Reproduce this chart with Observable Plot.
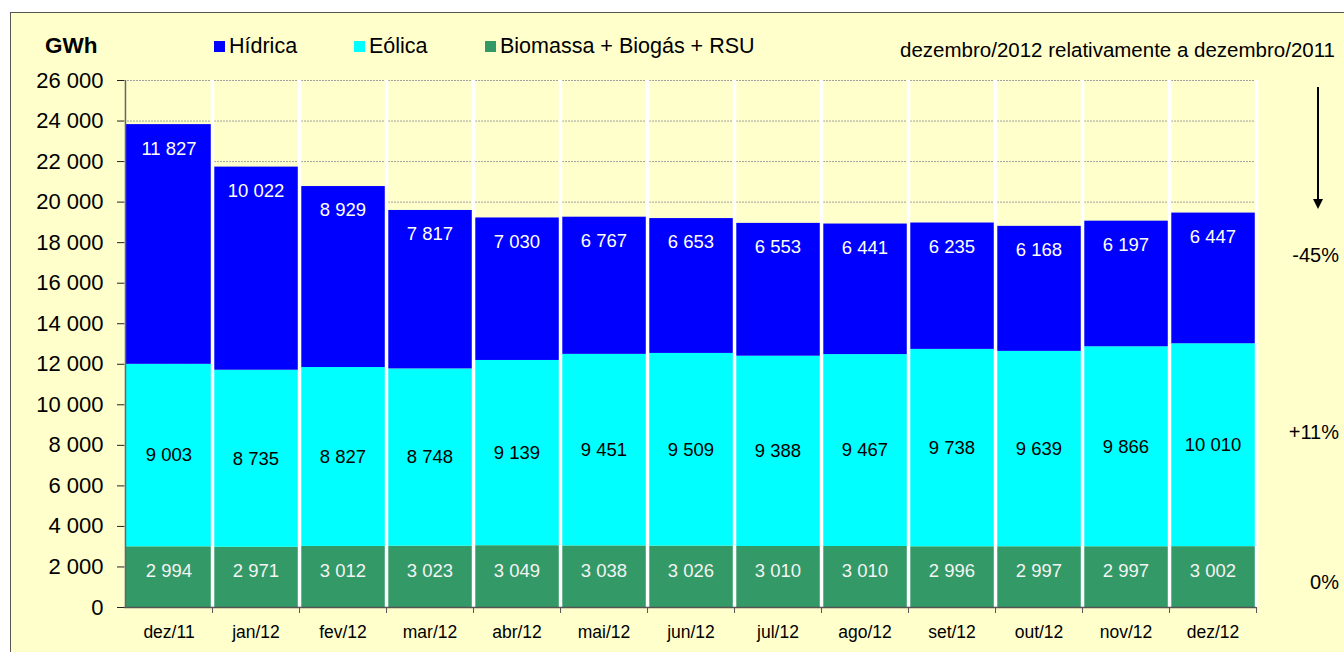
<!DOCTYPE html>
<html>
<head>
<meta charset="utf-8">
<script src="https://cdn.jsdelivr.net/npm/d3@7"></script>
<script src="https://cdn.jsdelivr.net/npm/@observablehq/plot@0.6"></script>
<style>
  html, body { margin: 0; padding: 0; background: #fff; }
  body { width: 1344px; height: 652px; overflow: hidden; position: relative; font-family: "Liberation Sans", Arial, sans-serif; }
  #frame { position: absolute; left: 10px; top: 12px; width: 1340px; height: 650px; background: #FFFFCC; border: 1px solid #555; box-sizing: border-box; }
  #chart { position: absolute; left: 0; top: 0; }
  .ann { position: absolute; white-space: nowrap; line-height: 1; color: #000; }
  .sw { position: absolute; width: 11px; height: 11px; }
</style>
</head>
<body>
<div id="frame"></div>
<div id="chart"></div>
<script>
const months = ["dez/11","jan/12","fev/12","mar/12","abr/12","mai/12","jun/12","jul/12","ago/12","set/12","out/12","nov/12","dez/12"];
const seriesNames = ["Biomassa + Biogás + RSU", "Eólica", "Hídrica"];
const seriesColors = ["#339966", "#00FFFF", "#0000FF"];
const biomassa = [2994, 2971, 3012, 3023, 3049, 3038, 3026, 3010, 3010, 2996, 2997, 2997, 3002];
const eolica = [9003, 8735, 8827, 8748, 9139, 9451, 9509, 9388, 9467, 9738, 9639, 9866, 10010];
const hidrica = [11827, 10022, 8929, 7817, 7030, 6767, 6653, 6553, 6441, 6235, 6168, 6197, 6447];
const yTicks = [0, 2000, 4000, 6000, 8000, 10000, 12000, 14000, 16000, 18000, 20000, 22000, 24000, 26000];
const changeLabels = ["-45%", "+11%", "0%"];
const compareTitle = "dezembro/2012 relativamente a dezembro/2011";
const unitLabel = "GWh";

const fmt = d3.formatLocale({decimal: ",", thousands: " ", grouping: [3], currency: ["", ""]}).format(",");

const W = 1344, H = 652, mL = 124, mR = 88, mT = 80, mB = 45;
const bw = (W - mL - mR) / months.length;

const rows = [];
months.forEach((m, i) => {
  rows.push({month: m, series: seriesNames[0], value: biomassa[i]});
  rows.push({month: m, series: seriesNames[1], value: eolica[i]});
  rows.push({month: m, series: seriesNames[2], value: hidrica[i]});
});
const labels = months.map((m, i) => ({
  month: m,
  bio: biomassa[i], eol: eolica[i], hid: hidrica[i],
  bioMid: biomassa[i] / 2,
  eolMid: biomassa[i] + eolica[i] / 2,
  total: biomassa[i] + eolica[i] + hidrica[i]
}));

const chart = Plot.plot({
  width: W, height: H,
  marginLeft: mL, marginRight: mR, marginTop: mT, marginBottom: mB,
  style: {background: "transparent", fontFamily: "'Liberation Sans', Arial, sans-serif", overflow: "visible"},
  x: {type: "band", domain: months, paddingInner: 0, paddingOuter: 0, axis: null, label: null},
  y: {domain: [0, 26000], axis: null, label: null},
  color: {domain: seriesNames, range: seriesColors},
  marks: [
    Plot.ruleY(yTicks.filter(d => d > 0), {stroke: "#a0a0a0", strokeDasharray: "2,1", strokeWidth: 1}),
    Plot.barY(rows, {x: "month", y: "value", fill: "series", order: seriesNames}),
    Plot.ruleX(months, {x: d => d, dx: bw / 2, y1: 0, y2: 26000, stroke: "white", strokeWidth: 3.5}),
    Plot.ruleX(months, {x: d => d, dx: bw / 2, y1: 0, y2: 0, insetBottom: -6, stroke: "#555", strokeWidth: 1}),
    Plot.ruleY([0], {stroke: "#555", strokeWidth: 1.5}),
    Plot.axisY({ticks: yTicks, tickSize: 7, tickPadding: 14, tickFormat: d => fmt(d), fontSize: 22, stroke: "#222", color: "#000", label: null}),
    Plot.ruleX([months[0]], {x: d => d, dx: -bw / 2, y1: 0, y2: 26000, stroke: "#666", strokeWidth: 1.5}),
    Plot.axisX({tickSize: 0, tickPadding: 18, fontSize: 17.5, color: "#000", label: null}),
    Plot.text(labels, {x: "month", y: "total", dy: 24, text: d => fmt(d.hid), fill: "white", fontSize: 18.5}),
    Plot.text(labels, {x: "month", y: "eolMid", text: d => fmt(d.eol), fill: "black", fontSize: 18.5}),
    Plot.text(labels, {x: "month", y: "bioMid", dy: -6, text: d => fmt(d.bio), fill: "#f4f4f4", fontSize: 18.5})
  ]
});
document.getElementById("chart").appendChild(chart);

// Annotations (legend, unit, comparison notes)
const body = document.body;
function addText(txt, opts) {
  const s = document.createElement("div");
  s.className = "ann";
  s.textContent = txt;
  Object.assign(s.style, opts);
  body.appendChild(s);
  return s;
}
addText(unitLabel, {left: "45px", top: "35px", fontSize: "22.5px", fontWeight: "bold"});

const legendPos = [500, 369, 229];
seriesNames.forEach((n, i) => {
  const sw = document.createElement("div");
  sw.className = "sw";
  sw.style.left = (legendPos[i] - 15) + "px";
  sw.style.top = "41px";
  sw.style.background = seriesColors[i];
  body.appendChild(sw);
  addText(n, {left: legendPos[i] + "px", top: "36px", fontSize: "21.5px"});
});

addText(compareTitle, {right: (1344 - 1335) + "px", top: "40px", fontSize: "20.5px"});
const pctY = [255, 432, 582];
changeLabels.forEach((t, i) => {
  addText(t, {right: (1344 - 1339) + "px", top: (pctY[i] - 10) + "px", fontSize: "20px"});
});

// arrow
const svgNS = "http://www.w3.org/2000/svg";
const arr = document.createElementNS(svgNS, "svg");
arr.setAttribute("width", 20); arr.setAttribute("height", 130);
arr.style.position = "absolute"; arr.style.left = "1308px"; arr.style.top = "86px";
arr.innerHTML = '<line x1="10" y1="1" x2="10" y2="114" stroke="#000" stroke-width="2"/><path d="M5,113 L15,113 L10,123 Z" fill="#000"/>';
body.appendChild(arr);
</script>
</body>
</html>
